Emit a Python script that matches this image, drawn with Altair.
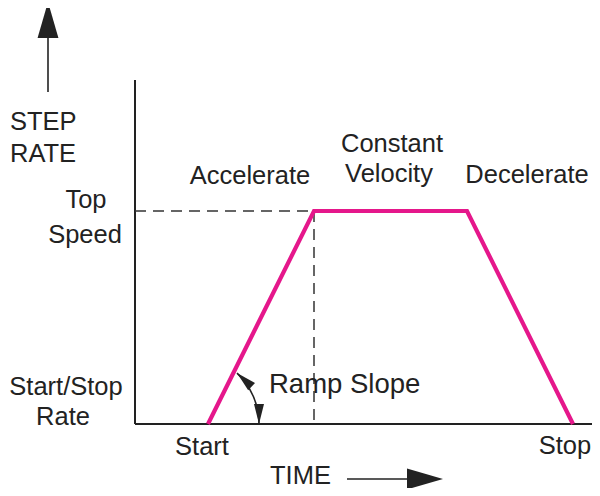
import altair as alt
import pandas as pd

# ---- diagram values (time units to the right of the axis origin, rate units above it) ----
profile_time = [73, 179, 332, 438]          # start, end of accel, start of decel, stop
profile_rate = [0, 213, 213, 0]             # start/stop rate, top speed, top speed, start/stop rate
top_speed = 213
accel_end_time = 179
time_axis_end = 458
rate_axis_top = 344

label_text = ["STEP", "RATE", "Top", "Speed", "Start/Stop", "Rate", "Accelerate",
              "Constant", "Velocity", "Decelerate", "Start", "Stop"]
label_time = [-125, -125, -49, -50, -69, -72, 115, 257, 254, 392, 67, 430]
label_rate = [294, 262, 216, 181, 29, -1, 240, 272, 242, 241, -31, -30]
label_align = ["left", "left", "center", "center", "center", "center", "center",
               "center", "center", "center", "center", "center"]

ramp_label = ["Ramp Slope"]
ramp_label_time = [134]
ramp_label_rate = [31]

time_label = ["TIME"]
time_label_time = [135]
time_label_rate = [-60]

INK = "#222222"
MAGENTA = "#E5178B"
FONT = "Liberation Sans"
FS = 25.5

xs = alt.Scale(domain=[-127, 457], nice=False, zero=False)
ys = alt.Scale(domain=[-64, 416], nice=False, zero=False)


def X(f):
    return alt.X(f, type="quantitative", scale=xs, axis=None)


def Y(f):
    return alt.Y(f, type="quantitative", scale=ys, axis=None)


def X2(f):
    return alt.X2(f)


def Y2(f):
    return alt.Y2(f)


# axes of the diagram
axes_df = pd.DataFrame({
    "x": [0, 0], "x2": [0, time_axis_end],
    "y": [0, 0], "y2": [rate_axis_top, 0],
})
axes = alt.Chart(axes_df).mark_rule(color=INK, strokeWidth=2).encode(
    x=X("x"), x2=X2("x2"), y=Y("y"), y2=Y2("y2"))

# dashed guides
dash_df = pd.DataFrame({
    "x": [0, accel_end_time], "x2": [accel_end_time, accel_end_time],
    "y": [top_speed, top_speed], "y2": [top_speed, 0],
})
dashes = alt.Chart(dash_df).mark_rule(color="#333333", strokeWidth=1.5,
                                      strokeDash=[11, 7]).encode(
    x=X("x"), x2=X2("x2"), y=Y("y"), y2=Y2("y2"))

# velocity profile
prof_df = pd.DataFrame({"t": profile_time, "r": profile_rate,
                        "o": list(range(len(profile_time)))})
profile = alt.Chart(prof_df).mark_line(color=MAGENTA, strokeWidth=4.2,
                                       strokeJoin="miter").encode(
    x=X("t"), y=Y("r"), order="o:Q")

# big arrows (step rate up, time right)
arrow_line_df = pd.DataFrame({
    "x": [-87, 212], "x2": [-87, 275],
    "y": [332, -55], "y2": [388, -55],
})
arrow_lines = alt.Chart(arrow_line_df).mark_rule(color=INK, strokeWidth=1.6).encode(
    x=X("x"), x2=X2("x2"), y=Y("y"), y2=Y2("y2"))

HEAD_BIG = "M0,0L0.58,2L-0.58,2Z"
head_df = pd.DataFrame({"x": [-87, 308], "y": [422, -55], "a": [0, 90]})
heads = alt.Chart(head_df).mark_point(shape=HEAD_BIG, filled=True, size=1296,
                                      color=INK, opacity=1, strokeWidth=0).encode(
    x=X("x"), y=Y("y"), angle=alt.Angle("a:Q", scale=None))

# ramp slope arc with two arrowheads
arc_df = pd.DataFrame({"x": [54], "y": [0]})
arc = alt.Chart(arc_df).mark_arc(theta=0.756, theta2=1.571, radius=70, radius2=70,
                                 fillOpacity=0, stroke=INK, strokeWidth=1.6).encode(
    x=X("x"), y=Y("y"))

HEAD_SMALL = "M0,0L0.5,2L-0.5,2Z"
small_df = pd.DataFrame({"x": [102, 124], "y": [51, 0], "a": [313, 180]})
small_heads = alt.Chart(small_df).mark_point(shape=HEAD_SMALL, filled=True, size=400,
                                             color=INK, opacity=1, strokeWidth=0).encode(
    x=X("x"), y=Y("y"), angle=alt.Angle("a:Q", scale=None))

# labels
lab_df = pd.DataFrame({"t": label_text, "x": label_time, "y": label_rate, "al": label_align})
left_labels = alt.Chart(lab_df[lab_df.al == "left"]).mark_text(
    align="left", baseline="alphabetic", font=FONT, fontSize=FS, color=INK).encode(
    x=X("x"), y=Y("y"), text="t:N")
center_labels = alt.Chart(lab_df[lab_df.al == "center"]).mark_text(
    align="center", baseline="alphabetic", font=FONT, fontSize=FS, color=INK).encode(
    x=X("x"), y=Y("y"), text="t:N")

ramp_df = pd.DataFrame({"t": ramp_label, "x": ramp_label_time, "y": ramp_label_rate})
ramp_text = alt.Chart(ramp_df).mark_text(
    align="left", baseline="alphabetic", font=FONT, fontSize=27.5, color=INK).encode(
    x=X("x"), y=Y("y"), text="t:N")

time_df = pd.DataFrame({"t": time_label, "x": time_label_time, "y": time_label_rate})
time_text = alt.Chart(time_df).mark_text(
    align="left", baseline="alphabetic", font=FONT, fontSize=FS, color=INK).encode(
    x=X("x"), y=Y("y"), text="t:N")

chart = alt.layer(
    axes, dashes, profile, arrow_lines, heads, arc, small_heads,
    left_labels, center_labels, ramp_text, time_text
).properties(
    width=584, height=480, padding=0, autosize=alt.AutoSizeParams(type="none"),
    background="white"
).configure_view(stroke=None)

chart.save("out.html", embed_options={"renderer": "svg", "actions": False})
